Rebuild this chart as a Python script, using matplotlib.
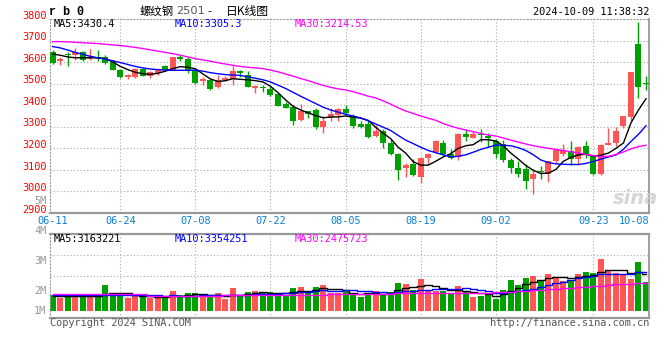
import matplotlib
matplotlib.use("Agg")
import matplotlib.pyplot as plt
import matplotlib.transforms as mtransforms
import numpy as np
import pandas as pd

W, H = 660, 360

# trading days (weekends and SHFE holidays removed)
days = pd.bdate_range("2024-06-11", "2024-10-09")
holidays = pd.to_datetime(["2024-09-16", "2024-09-17", "2024-10-01", "2024-10-02",
                           "2024-10-03", "2024-10-04", "2024-10-07"])
dates = list(days.difference(holidays).strftime("%m-%d"))

opens = [3646, 3603, 3635, 3634, 3645, 3615, 3622, 3622, 3601, 3563,
         3529, 3532, 3568, 3537, 3548, 3580, 3565, 3623, 3615, 3565,
         3511, 3518, 3485, 3518, 3522, 3557, 3542, 3480, 3482, 3477,
         3452, 3406, 3391, 3332, 3372, 3378, 3300, 3346, 3354, 3383,
         3346, 3311, 3311, 3257, 3280, 3226, 3175, 3108, 3126, 3065,
         3154, 3183, 3226, 3172, 3160, 3265, 3249, 3265, 3257, 3234,
         3222, 3145, 3111, 3103, 3057, 3095, 3080, 3139, 3172, 3188,
         3152, 3209, 3165, 3083, 3217, 3226, 3302, 3345, 3683, 3502]
highs = [3657, 3626, 3649, 3665, 3652, 3660, 3654, 3634, 3611, 3569,
         3546, 3572, 3572, 3561, 3572, 3588, 3625, 3634, 3626, 3572,
         3531, 3522, 3542, 3534, 3583, 3565, 3560, 3495, 3496, 3488,
         3455, 3415, 3400, 3406, 3375, 3388, 3352, 3388, 3388, 3400,
         3357, 3326, 3326, 3308, 3288, 3241, 3180, 3134, 3149, 3160,
         3180, 3238, 3237, 3198, 3272, 3291, 3280, 3288, 3272, 3241,
         3237, 3157, 3142, 3126, 3103, 3118, 3142, 3195, 3221, 3234,
         3209, 3234, 3168, 3220, 3295, 3300, 3352, 3554, 3785, 3534]
lows = [3591, 3588, 3583, 3611, 3606, 3611, 3603, 3591, 3562, 3526,
        3523, 3526, 3534, 3524, 3538, 3560, 3563, 3605, 3549, 3500,
        3495, 3472, 3480, 3511, 3495, 3529, 3483, 3457, 3460, 3442,
        3395, 3385, 3306, 3329, 3341, 3292, 3269, 3326, 3326, 3354,
        3295, 3295, 3249, 3254, 3203, 3169, 3052, 3068, 3072, 3037,
        3126, 3180, 3169, 3152, 3145, 3234, 3246, 3231, 3206, 3157,
        3138, 3085, 3068, 3011, 2988, 3057, 3042, 3134, 3163, 3125,
        3122, 3155, 3078, 3078, 3214, 3211, 3295, 3326, 3434, 3469]
closes = [3598, 3615, 3631, 3645, 3611, 3626, 3617, 3598, 3565, 3529,
          3538, 3566, 3537, 3552, 3569, 3565, 3623, 3615, 3560, 3503,
          3522, 3475, 3517, 3526, 3557, 3549, 3485, 3491, 3478, 3446,
          3398, 3388, 3329, 3372, 3361, 3300, 3329, 3360, 3383, 3365,
          3303, 3300, 3254, 3280, 3223, 3172, 3099, 3122, 3075, 3157,
          3175, 3234, 3172, 3157, 3268, 3252, 3268, 3262, 3246, 3175,
          3145, 3108, 3080, 3049, 3080, 3091, 3139, 3191, 3194, 3149,
          3206, 3171, 3080, 3217, 3226, 3280, 3348, 3554, 3485, 3497]

ma5 = [3637, 3632, 3624, 3620, 3620, 3621, 3619, 3616, 3601, 3580,
       3565, 3553, 3546, 3543, 3548, 3558, 3570, 3579, 3576, 3569,
       3545, 3522, 3510, 3514, 3523, 3520, 3518, 3514, 3508, 3488,
       3458, 3425, 3395, 3378, 3365, 3352, 3342, 3345, 3346, 3350,
       3345, 3340, 3330, 3298, 3270, 3245, 3205, 3178, 3138, 3122,
       3122, 3140, 3160, 3175, 3200, 3212, 3217, 3240, 3240, 3234,
       3212, 3178, 3150, 3120, 3098, 3083, 3085, 3102, 3140, 3158,
       3170, 3172, 3164, 3168, 3178, 3200, 3225, 3318, 3378, 3430]
ma10 = [3672, 3666, 3656, 3645, 3636, 3627, 3620, 3614, 3606, 3598,
        3589, 3580, 3573, 3568, 3565, 3563, 3562, 3562, 3562, 3563,
        3558, 3551, 3546, 3542, 3540, 3538, 3532, 3525, 3518, 3508,
        3493, 3478, 3460, 3442, 3425, 3408, 3391, 3378, 3368, 3358,
        3350, 3341, 3328, 3313, 3298, 3283, 3260, 3238, 3222, 3205,
        3190, 3180, 3170, 3160, 3163, 3170, 3182, 3195, 3205, 3215,
        3214, 3212, 3203, 3190, 3170, 3146, 3134, 3128, 3126, 3125,
        3125, 3130, 3139, 3150, 3160, 3169, 3196, 3232, 3265, 3305]
ma30 = [3695, 3695, 3694, 3692, 3690, 3688, 3686, 3683, 3680, 3677,
        3673, 3668, 3663, 3657, 3651, 3645, 3639, 3632, 3624, 3616,
        3610, 3604, 3597, 3591, 3585, 3580, 3576, 3573, 3570, 3563,
        3555, 3545, 3535, 3524, 3514, 3503, 3492, 3483, 3476, 3471,
        3463, 3453, 3442, 3434, 3420, 3405, 3388, 3373, 3362, 3350,
        3340, 3330, 3315, 3303, 3293, 3285, 3277, 3269, 3262, 3257,
        3248, 3238, 3229, 3220, 3212, 3206, 3200, 3195, 3190, 3184,
        3178, 3172, 3166, 3161, 3163, 3171, 3183, 3198, 3208, 3214.5]

# volume in millions of lots
volume = [1.42, 1.15, 1.42, 1.25, 1.27, 1.27, 1.42, 2.30, 1.58, 1.42,
          1.15, 1.37, 1.27, 1.17, 1.17, 1.10, 1.75, 1.37, 1.57, 1.57,
          1.30, 1.28, 1.58, 1.04, 2.02, 1.28, 1.67, 1.76, 1.58, 1.67,
          1.43, 1.43, 2.02, 2.14, 1.67, 2.14, 2.32, 1.58, 1.58, 1.79,
          1.43, 1.25, 1.43, 1.73, 1.43, 1.67, 2.47, 2.38, 1.88, 2.83,
          1.79, 1.79, 1.79, 1.49, 2.20, 1.67, 1.22, 1.34, 1.49, 1.04,
          1.88, 2.77, 2.32, 2.92, 3.13, 2.77, 3.27, 3.00, 2.68, 2.77,
          3.27, 3.45, 3.36, 4.64, 3.63, 3.36, 3.27, 2.83, 4.35, 2.56]
vol_ma5 = [1.31, 1.30, 1.30, 1.27, 1.27, 1.27, 1.30, 1.50, 1.55, 1.60,
           1.57, 1.38, 1.32, 1.27, 1.23, 1.22, 1.30, 1.32, 1.38, 1.47,
           1.50, 1.40, 1.44, 1.34, 1.43, 1.44, 1.52, 1.55, 1.66, 1.59,
           1.62, 1.57, 1.63, 1.74, 1.74, 1.88, 2.06, 1.97, 1.92, 1.88,
           1.62, 1.53, 1.55, 1.58, 1.47, 1.60, 1.87, 2.06, 2.12, 2.25,
           2.29, 2.21, 2.06, 1.82, 1.81, 1.79, 1.67, 1.58, 1.47, 1.35,
           1.49, 1.79, 2.00, 2.35, 2.60, 2.78, 2.88, 3.00, 2.98, 2.90,
           3.00, 3.09, 3.15, 3.50, 3.67, 3.65, 3.66, 3.41, 3.49, 3.27]
vol_ma10 = [1.37, 1.37, 1.37, 1.37, 1.37, 1.37, 1.37, 1.38, 1.40, 1.41,
            1.40, 1.40, 1.38, 1.37, 1.36, 1.35, 1.38, 1.35, 1.35, 1.35,
            1.36, 1.37, 1.38, 1.37, 1.38, 1.39, 1.42, 1.46, 1.48, 1.52,
            1.53, 1.55, 1.59, 1.66, 1.68, 1.75, 1.81, 1.80, 1.78, 1.81,
            1.81, 1.79, 1.73, 1.69, 1.67, 1.62, 1.64, 1.72, 1.76, 1.85,
            1.88, 1.93, 1.96, 1.96, 1.96, 1.99, 1.93, 1.83, 1.80, 1.60,
            1.61, 1.70, 1.73, 1.87, 1.98, 2.08, 2.29, 2.45, 2.57, 2.75,
            2.92, 3.00, 3.10, 3.27, 3.28, 3.28, 3.28, 3.27, 3.42, 3.47]
vol_ma30 = [1.46, 1.46, 1.46, 1.46, 1.46, 1.46, 1.46, 1.46, 1.46, 1.46,
            1.46, 1.46, 1.46, 1.33, 1.33, 1.33, 1.33, 1.33, 1.33, 1.33,
            1.33, 1.33, 1.33, 1.36, 1.36, 1.36, 1.36, 1.36, 1.36, 1.36,
            1.36, 1.36, 1.36, 1.36, 1.36, 1.36, 1.36, 1.45, 1.45, 1.45,
            1.45, 1.45, 1.45, 1.45, 1.45, 1.45, 1.62, 1.62, 1.62, 1.62,
            1.62, 1.62, 1.62, 1.62, 1.62, 1.62, 1.62, 1.62, 1.62, 1.64,
            1.66, 1.70, 1.74, 1.78, 1.82, 1.86, 1.90, 1.95, 2.00, 2.05,
            2.09, 2.13, 2.17, 2.24, 2.30, 2.34, 2.38, 2.41, 2.45, 2.50]

tick_dates = ["06-11", "06-24", "07-08", "07-22", "08-05", "08-19", "09-02", "09-23", "10-08"]
price_ticks = [3800, 3700, 3600, 3500, 3400, 3300, 3200, 3100, 3000, 2900]
vol_labels = ["5M", "4M", "3M", "2M", "1M"]
ma_text = ["MA5:3430.4", "MA10:3305.3", "MA30:3214.53"]
vol_ma_text = ["MA5:3163221", "MA10:3354251", "MA30:2475723"]

RED = "#ff5555"
GREEN = "#00a000"
GRID = "#aaaaaa"
BLUE_TXT = "#0a7fd8"
MA_COLORS = ["black", "#0000ff", "#ff00ff"]
MONO = "DejaVu Sans Mono"
DOT = (0, (1, 2))

x = np.arange(len(dates))
o = np.array(opens)
c = np.array(closes)
up = c >= o
colors = np.where(up, RED, GREEN)

fig = plt.figure(figsize=(W / 100, H / 100), dpi=100)
fig.patch.set_facecolor("white")


def fig_xy(px, py):
    return px / W, 1 - py / H


# axes boxes in pixels: left, top, right, bottom
ax = fig.add_axes([50 / W, 1 - 213 / H, 599 / W, 194 / H])
axv = fig.add_axes([50 / W, 1 - 317.7 / H, 599 / W, 83.4 / H])

for a in (ax, axv):
    a.set_xlim(-0.36, 79.4)
    a.set_xticks([])
    a.set_yticks([])
    for s in a.spines.values():
        s.set_color("#999999")
    a.spines["left"].set_linestyle(DOT)
    a.spines["left"].set_linewidth(0.8)
    a.spines["right"].set_linewidth(1.3)
    a.spines["bottom"].set_linewidth(1.6)
ax.spines["top"].set_linestyle(DOT)
ax.spines["top"].set_linewidth(0.8)
axv.spines["top"].set_linewidth(1.6)

ax.set_ylim(2900, 3800)
vol_scale = 11.2  # px per million
axv.set_ylim(-7 / vol_scale, 76.4 / vol_scale)

# grid
tick_idx = [dates.index(d) for d in tick_dates]
for d, i in zip(tick_dates, tick_idx):
    if d in (tick_dates[0], tick_dates[-1]):
        continue
    ax.axvline(i, color=GRID, ls=DOT, lw=0.8, zorder=0)
    axv.axvline(i, color=GRID, ls=DOT, lw=0.8, zorder=0)
for p in price_ticks[1:-1]:
    ax.axhline(p, color=GRID, ls=DOT, lw=0.8, zorder=0)
for f in (0.25, 0.5, 0.75):
    axv.plot([0, 1], [f, f], transform=axv.transAxes, color=GRID, ls=DOT, lw=0.8, zorder=0)

# candles
ax.vlines(x, lows, highs, colors=colors, lw=1, zorder=2)
body = np.maximum(np.abs(c - o), 4.6)
ax.bar(x, body, bottom=np.minimum(o, c), width=0.8, color=colors, zorder=3)

for series, col in zip([ma5, ma10, ma30], MA_COLORS):
    ax.plot(x, series, color=col, lw=1, zorder=4)

# volume
axv.bar(x, volume, width=0.8, color=colors, zorder=2)
for series, col in zip([vol_ma5, vol_ma10, vol_ma30], MA_COLORS):
    axv.plot(x, series, color=col, lw=1.0, drawstyle="steps-mid", zorder=3)

# price labels (slightly above their grid lines)
trans = mtransforms.offset_copy(mtransforms.blended_transform_factory(ax.transAxes, ax.transData),
                                fig=fig, x=-3.5, y=3.3, units="dots")
for p in price_ticks:
    ax.text(0, p, str(p), transform=trans, ha="right", va="center",
            color="#ff0000", fontsize=7.4, family=MONO)

# date labels
dtrans = mtransforms.offset_copy(mtransforms.blended_transform_factory(ax.transData, ax.transAxes),
                                 fig=fig, y=-8.5, units="dots")
for d, i in zip(tick_dates, tick_idx):
    if d == tick_dates[-1]:
        ax.text(1.0, 0, d, transform=mtransforms.offset_copy(ax.transAxes, fig=fig, y=-8.5, units="dots"),
                ha="right", va="center", color=BLUE_TXT, fontsize=7.4, family=MONO)
    else:
        ax.text(i, 0, d, transform=dtrans, ha="center", va="center",
                color=BLUE_TXT, fontsize=7.4, family=MONO)

# volume labels
for lab, py in zip(vol_labels, [201, 231, 261, 291, 311]):
    fig.text(*fig_xy(46.5, py), lab, ha="right", va="center", color="#999999",
             fontsize=7.4, family=MONO)

# header
fig.text(*fig_xy(49, 12), "r b 0", ha="left", va="center", fontsize=8.5,
         family="Liberation Mono", fontweight="bold", color="black")
fig.text(*fig_xy(140, 11), "螺纹钢", ha="left", va="center", fontsize=8.2,
         family=["Noto Sans CJK SC", "DejaVu Sans"], color="black")
fig.text(*fig_xy(176, 11), "2501", ha="left", va="center", fontsize=8.2,
         family="DejaVu Sans", color="#555555")
fig.text(*fig_xy(210, 11), "-", ha="center", va="center", fontsize=8.2,
         family="DejaVu Sans", color="black")
fig.text(*fig_xy(226, 11), "日K线图", ha="left", va="center", fontsize=8.5,
         family=["Noto Sans CJK SC", "DejaVu Sans"], color="black")
fig.text(*fig_xy(649, 12), "2024-10-09 11:38:32", ha="right", va="center",
         fontsize=7.4, family=MONO, color="black")

for t, col, px in zip(ma_text, MA_COLORS, [54, 175, 295]):
    fig.text(*fig_xy(px, 24), t, ha="left", va="center", fontsize=7.4, family=MONO, color=col)
for t, col, px in zip(vol_ma_text, MA_COLORS, [54, 175, 295]):
    fig.text(*fig_xy(px, 238.5), t, ha="left", va="center", fontsize=7.4, family=MONO, color=col)

# watermark
fig.text(*fig_xy(635, 198), "sina", ha="center", va="center", fontsize=14,
         family="DejaVu Sans", fontweight="bold", fontstyle="italic", color="#cccccc", alpha=0.8)

# footer
fig.text(*fig_xy(50, 323.5), "Copyright 2024 SINA.COM", ha="left", va="center",
         fontsize=7.4, family=MONO, color="#555555")
fig.text(*fig_xy(649, 323.5), "http://finance.sina.com.cn", ha="right", va="center",
         fontsize=7.4, family=MONO, color="#555555")

fig.savefig("out.png", dpi=100, facecolor="white")
